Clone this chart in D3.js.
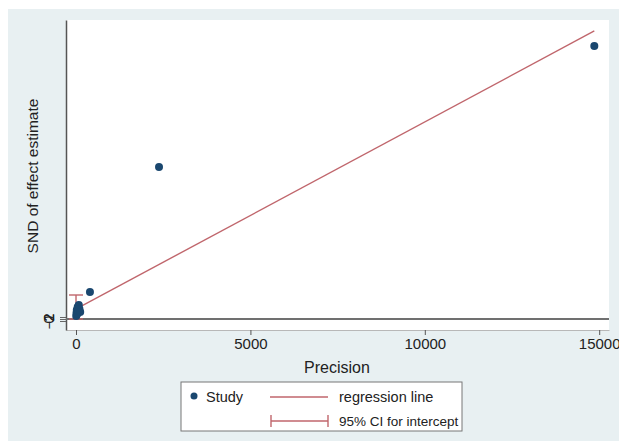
<!DOCTYPE html>
<html>
<head>
<meta charset="utf-8">
<script src="https://cdn.jsdelivr.net/npm/d3@7"></script>
<style>
  body { margin: 0; background: #fff; }
  text { font-family: "Liberation Sans", Arial, sans-serif; fill: #222; }
</style>
</head>
<body>
<svg id="chart" width="619" height="441"></svg>
<script>
// study points: precision (1/SE) and standard normal deviate
var precision = [6, 14, 22, 35, 48, 62, 80, 98, 120, 400, 2380, 14860];
var snd       = [3, 6, 9, 5, 12, 8, 14, 10, 7, 27, 152, 273];

// Egger regression: SND = intercept + slope * precision
var intercept = 10;
var slope = 0.01871;
var ciLow = 0, ciHigh = 24;

var xTicks = [0, 5000, 10000, 15000];
var yTicks = [-2, 0, 2];

var svg = d3.select("#chart");

// graph region background
svg.append("rect")
    .attr("x", 8).attr("y", 9)
    .attr("width", 611).attr("height", 432)
    .attr("fill", "#e8f0f2");

var margin = { top: 20, left: 66, right: 609, bottom: 330 };

var x = d3.scaleLinear().domain([-287, 15281]).range([margin.left, margin.right]);
var y = d3.scaleLinear().domain([-11, 299]).range([margin.bottom, margin.top]);

// plot region
svg.append("rect")
    .attr("x", margin.left).attr("y", margin.top)
    .attr("width", margin.right - margin.left)
    .attr("height", margin.bottom - margin.top)
    .attr("fill", "#fff");

// x axis
var xAxis = d3.axisBottom(x).tickValues(xTicks).tickSizeInner(5).tickSizeOuter(0)
    .tickPadding(3).tickFormat(d3.format("d"));
var gX = svg.append("g")
    .attr("transform", "translate(0," + margin.bottom + ")")
    .call(xAxis);
gX.select(".domain").attr("stroke", "#b8b8b8");
gX.selectAll(".tick line").attr("stroke", "#555");
gX.selectAll(".tick text").style("font-size", "15px").attr("fill", "#222");

// y axis
var yAxis = d3.axisLeft(y).tickValues(yTicks).tickSizeInner(6).tickSizeOuter(0).tickPadding(0);
var gY = svg.append("g")
    .attr("transform", "translate(" + margin.left + ",0)")
    .call(yAxis);
gY.select(".domain").attr("stroke", "#555").attr("stroke-width", 1.5);
gY.selectAll(".tick line").attr("stroke", "#666");
gY.selectAll(".tick text")
    .style("font-size", "14px")
    .attr("fill", "#222")
    .attr("text-anchor", "middle")
    .attr("x", 0).attr("dy", 0)
    .attr("transform", "translate(-12,0) rotate(-90)");

// reference line at zero
svg.append("line")
    .attr("x1", margin.left).attr("x2", margin.right)
    .attr("y1", y(0)).attr("y2", y(0))
    .attr("stroke", "#707070").attr("stroke-width", 2);

var red = "#c0666c";

// regression line over range of precision
var pMin = d3.min(precision), pMax = d3.max(precision);
svg.append("line")
    .attr("x1", x(pMin)).attr("y1", y(intercept + slope * pMin))
    .attr("x2", x(pMax)).attr("y2", y(intercept + slope * pMax))
    .attr("stroke", red).attr("stroke-width", 1.4);

// CI for intercept
var ci = svg.append("g").attr("stroke", red).attr("stroke-width", 1.4);
ci.append("line").attr("x1", x(0)).attr("x2", x(0)).attr("y1", y(ciLow)).attr("y2", y(ciHigh));
[ciLow, ciHigh].forEach(function (v) {
    ci.append("line").attr("x1", x(0) - 7).attr("x2", x(0) + 7).attr("y1", y(v)).attr("y2", y(v));
});

// points
svg.selectAll(".dot")
    .data(precision)
    .enter()
    .append("circle")
    .attr("class", "dot")
    .attr("cx", function (d) { return x(d); })
    .attr("cy", function (d, i) { return y(snd[i]); })
    .attr("r", 4)
    .attr("fill", "#1a476f");

// axis titles
svg.append("text")
    .attr("x", 337)
    .attr("y", 373)
    .attr("text-anchor", "middle")
    .style("font-size", "16px")
    .text("Precision");

svg.append("text")
    .attr("transform", "translate(38,176) rotate(-90)")
    .attr("text-anchor", "middle")
    .style("font-size", "15.5px")
    .text("SND of effect estimate");

// legend
var lg = svg.append("g");
lg.append("rect")
    .attr("x", 181).attr("y", 382)
    .attr("width", 281).attr("height", 49)
    .attr("fill", "#fff").attr("stroke", "#777").attr("stroke-width", 1);
lg.append("circle").attr("cx", 194).attr("cy", 396).attr("r", 3.5).attr("fill", "#1a476f");
lg.append("text").attr("x", 206).attr("y", 402).style("font-size", "14.5px").text("Study");
lg.append("line").attr("x1", 270).attr("x2", 328).attr("y1", 397).attr("y2", 397)
    .attr("stroke", red).attr("stroke-width", 1.4);
lg.append("text").attr("x", 339).attr("y", 402).style("font-size", "14.5px").text("regression line");
var lci = lg.append("g").attr("stroke", red).attr("stroke-width", 1.4);
lci.append("line").attr("x1", 271).attr("x2", 328).attr("y1", 421).attr("y2", 421);
lci.append("line").attr("x1", 271).attr("x2", 271).attr("y1", 415).attr("y2", 427);
lci.append("line").attr("x1", 328).attr("x2", 328).attr("y1", 415).attr("y2", 427);
lg.append("text").attr("x", 339).attr("y", 426).style("font-size", "13.5px").text("95% CI for intercept");
</script>
</body>
</html>
